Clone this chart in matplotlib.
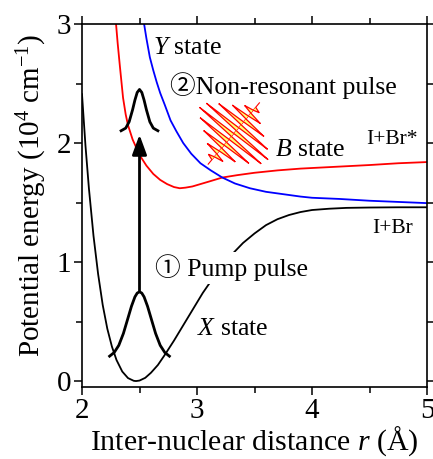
import matplotlib
matplotlib.use('Agg')
import matplotlib.pyplot as plt
import matplotlib.transforms as mtransforms
from matplotlib.patches import Polygon

plt.rcParams['font.family'] = ['Liberation Serif', 'Noto Sans CJK JP', 'DejaVu Sans']
plt.rcParams['mathtext.fontset'] = 'custom'
plt.rcParams['mathtext.rm'] = 'Liberation Serif'
plt.rcParams['mathtext.it'] = 'Liberation Serif:italic'
plt.rcParams['mathtext.bf'] = 'Liberation Serif:bold'

# ---------------- data ----------------
# X state (ground state), r in Angstrom, E in 10^4 cm^-1
r_X = [2.00, 2.03, 2.06, 2.10, 2.14, 2.18, 2.22, 2.26, 2.30, 2.35, 2.40, 2.45,
       2.47, 2.50, 2.55, 2.60, 2.66, 2.72, 2.80, 2.90, 3.00, 3.05, 3.10, 3.20,
       3.30, 3.40, 3.50, 3.60, 3.70, 3.80, 3.90, 4.00, 4.15, 4.30, 4.50, 4.75, 5.00]
E_X = [2.41, 1.98, 1.62, 1.22, 0.90, 0.64, 0.44, 0.29, 0.177, 0.080, 0.025, 0.002,
       0.0, 0.004, 0.027, 0.07, 0.135, 0.22, 0.34, 0.50, 0.66, 0.74, 0.81, 0.94,
       1.06, 1.16, 1.24, 1.31, 1.36, 1.395, 1.42, 1.437, 1.448, 1.455, 1.458, 1.46, 1.46]

# B state (red)
r_B = [2.296, 2.31, 2.33, 2.357, 2.38, 2.40, 2.44, 2.50, 2.56, 2.62, 2.68, 2.74,
       2.80, 2.85, 2.90, 2.96, 3.03, 3.10, 3.22, 3.35, 3.50, 3.70, 3.90, 4.20,
       4.50, 4.75, 5.00]
E_B = [3.00, 2.84, 2.64, 2.38, 2.24, 2.15, 2.03, 1.90, 1.81, 1.74, 1.69, 1.655,
       1.63, 1.62, 1.625, 1.635, 1.655, 1.675, 1.71, 1.73, 1.75, 1.77, 1.785, 1.80,
       1.815, 1.83, 1.84]

# Y state (blue, repulsive)
r_Y = [2.54, 2.56, 2.59, 2.62, 2.65, 2.68, 2.72, 2.77, 2.82, 2.88, 2.95, 3.03,
       3.12, 3.22, 3.33, 3.46, 3.60, 3.75, 3.90, 4.00, 4.24, 4.50, 4.75, 5.00]
E_Y = [3.00, 2.88, 2.72, 2.61, 2.51, 2.42, 2.32, 2.19, 2.10, 2.00, 1.91, 1.83,
       1.77, 1.71, 1.66, 1.62, 1.59, 1.57, 1.55, 1.54, 1.53, 1.515, 1.505, 1.495]

# wave packet on X state
r_g1 = [2.24, 2.28, 2.32, 2.36, 2.40, 2.43, 2.46, 2.48, 2.50, 2.52, 2.54, 2.57,
        2.60, 2.64, 2.68, 2.72, 2.76]
E_g1 = [0.209, 0.24, 0.30, 0.40, 0.53, 0.628, 0.707, 0.739, 0.75, 0.739, 0.707,
        0.628, 0.53, 0.40, 0.30, 0.24, 0.209]

# wave packet on excited states
r_g2 = [2.34, 2.38, 2.41, 2.44, 2.46, 2.48, 2.50, 2.52, 2.54, 2.56, 2.59, 2.62, 2.66]
E_g2 = [2.103, 2.125, 2.178, 2.28, 2.36, 2.425, 2.45, 2.425, 2.36, 2.28, 2.178,
        2.125, 2.103]

# pump arrow (r, E_start, E_end)
arrow_r = 2.5
arrow_E = [0.76, 2.07]

# non-resonant pulse: centre and relative half-lobe amplitudes
pulse_center = (3.32, 2.08)
pulse_amp = [0.14, 0.22, 0.32, 0.44, 0.57, 0.70, 0.82, 0.92, 0.98,
             0.98, 0.92, 0.82, 0.70, 0.57, 0.44, 0.32, 0.22, 0.14]

# ---------------- figure ----------------
W, H = 433, 459
fig = plt.figure(figsize=(W / 100, H / 100), dpi=100)
ax = fig.add_axes([82 / W, 1 - 387 / H, (427 - 82) / W, (387 - 24) / H])

ax.plot(r_X, E_X, color='black', lw=1.3, zorder=2)
ax.plot(r_B, E_B, color='#ff0000', lw=1.3, zorder=2)
ax.plot(r_Y, E_Y, color='#0000ff', lw=1.3, zorder=2)
ax.plot(r_g1, E_g1, color='black', lw=2.0, zorder=3)
ax.plot(r_g2, E_g2, color='black', lw=2.0, zorder=3)

ax.annotate('', xy=(arrow_r, arrow_E[1]), xytext=(arrow_r, arrow_E[0]),
            arrowprops=dict(arrowstyle='-|>,head_length=0.6,head_width=0.22',
                            color='black', lw=2.0, mutation_scale=20,
                            shrinkA=0, shrinkB=0), zorder=3)

# pulse drawn in pixel offsets around its centre
trans = fig.dpi_scale_trans + mtransforms.ScaledTranslation(
    pulse_center[0], pulse_center[1], ax.transData)
ux, uy = 0.64, 0.766      # propagation direction (display)
nx, ny = -0.766, 0.64     # oscillation direction
Hpx = 44.0
half = 3.8
n = len(pulse_amp)
axis_len = 40.0
ax.plot([-axis_len * ux / 100, axis_len * ux / 100],
        [-axis_len * uy / 100, axis_len * uy / 100],
        color='#ff0000', lw=0.8, transform=trans, zorder=3.9)
for i, a in enumerate(pulse_amp):
    s = (i - (n - 1) / 2) * half
    sgn = 1 if i % 2 == 0 else -1
    A = sgn * a * Hpx
    w = half * 0.5
    pts = [((s - w) * ux, (s - w) * uy),
           ((s - 0.25 * w) * ux + 0.75 * A * nx, (s - 0.25 * w) * uy + 0.75 * A * ny),
           (s * ux + A * nx, s * uy + A * ny),
           ((s + 0.25 * w) * ux + 0.75 * A * nx, (s + 0.25 * w) * uy + 0.75 * A * ny),
           ((s + w) * ux, (s + w) * uy)]
    pts = [(px / 100, py / 100) for px, py in pts]
    ax.add_patch(Polygon(pts, closed=False, facecolor='#ffff70',
                         edgecolor='#ff0000', lw=0.9, transform=trans, zorder=4))

# texts
fs = 18.5
ax.text(2.617, 2.80, r'$\mathit{Y}$ state', fontsize=fs, ha='left', va='center')
ax.text(2.765, 2.48, '②Non-resonant pulse', fontsize=fs, ha='left', va='center')
ax.text(3.678, 1.94, r'$\mathit{B}$ state', fontsize=fs, ha='left', va='center')
ax.text(4.92, 2.03, 'I+Br*', fontsize=15.5, ha='right', va='center')
ax.text(4.878, 1.28, 'I+Br', fontsize=15.5, ha='right', va='center')
ax.text(2.635, 0.95, '① Pump pulse', fontsize=fs, ha='left', va='center', zorder=5,
        bbox=dict(facecolor='white', edgecolor='none', pad=2))
ax.text(3.0, 0.44, r'$\mathit{X}$ state', fontsize=fs, ha='left', va='center')

ax.set_xlim(2, 5)
ax.set_ylim(-0.05, 3)
ax.set_xticks([2, 3, 4, 5])
ax.set_xticks([2.5, 3.5, 4.5], minor=True)
ax.set_yticks([0, 1, 2, 3])
ax.set_yticks([0.5, 1.5, 2.5], minor=True)
ax.tick_params(which='both', direction='out', top=True, right=True,
               labelsize=21, width=1.1)
ax.tick_params(which='major', length=6, pad=2)
ax.tick_params(which='minor', length=4)
for sp in ax.spines.values():
    sp.set_linewidth(1.2)

ax.set_xlabel(r'Inter-nuclear distance $\mathit{r}$ (Å)', fontsize=21.5, labelpad=0)
ax.set_ylabel(r'Potential energy (10$^{4}$ cm$^{\mathrm{-1}}$)', fontsize=21)
ax.yaxis.set_label_coords(-0.096, 0.5275)

fig.savefig('out.png', dpi=100)
